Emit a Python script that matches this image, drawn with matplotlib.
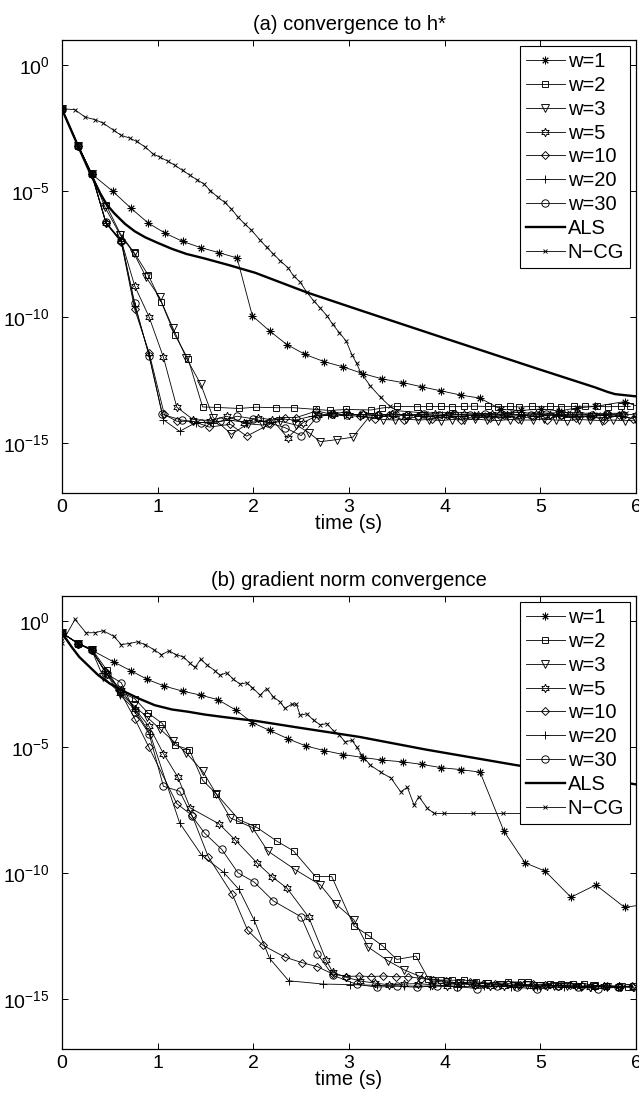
import numpy as np
import matplotlib
matplotlib.use("Agg")
import matplotlib.pyplot as plt

plt.rcParams["font.family"] = ["Liberation Sans", "DejaVu Sans"]
plt.rcParams["mathtext.fontset"] = "custom"
plt.rcParams["mathtext.rm"] = "Liberation Sans"
plt.rcParams["mathtext.it"] = "Liberation Sans"

# ---- panel (a): convergence to h*  (values are log10 of the error) ----
t_w1_a = [0, 0.17, 0.31, 0.53, 0.72, 0.90, 1.08, 1.26, 1.45, 1.64, 1.83, 1.99, 2.17, 2.35, 2.54, 2.74,
          2.94, 3.15, 3.35, 3.56, 3.76, 3.96, 4.17, 4.37, 4.59, 4.80, 5.01, 5.20, 5.38, 5.57, 5.88, 6.05]
v_w1_a = [-1.75, -3.21, -4.32, -5.01, -5.68, -6.27, -6.68, -7.00, -7.25, -7.45, -7.66, -9.96, -10.56,
          -11.10, -11.49, -11.78, -11.99, -12.26, -12.47, -12.61, -12.78, -12.94, -13.11, -13.23, -13.68,
          -13.72, -13.66, -13.74, -13.62, -13.56, -13.37, -13.6]

t_w2_a = [0, 0.17, 0.31, 0.46, 0.61, 0.76, 0.90, 1.04, 1.18, 1.32, 1.47, 1.62, 1.85, 2.03, 2.24, 2.42,
          2.66, 2.80, 2.97, 3.23, 3.35, 3.50, 3.71, 3.84, 3.96, 4.08, 4.20, 4.31, 4.45, 4.56, 4.68, 4.78,
          4.91, 5.10, 5.22, 5.35, 5.47, 5.59, 5.71, 5.84, 5.94]
v_w2_a = [-1.75, -3.21, -4.32, -5.55, -6.70, -7.48, -8.33, -9.43, -10.72, -11.69, -13.58, -13.60, -13.64,
          -13.59, -13.61, -13.61, -13.68, -13.72, -13.68, -13.70, -13.62, -13.56, -13.57, -13.56, -13.56,
          -13.57, -13.56, -13.55, -13.56, -13.57, -13.56, -13.58, -13.56, -13.56, -13.57, -13.56, -13.55,
          -13.56, -13.57, -13.56, -13.56]

t_w3_a = [0, 0.17, 0.31, 0.45, 0.61, 0.75, 0.88, 1.02, 1.16, 1.30, 1.45, 1.58, 1.77, 1.94, 2.10, 2.28,
          2.45, 2.58, 2.70, 2.87, 3.04, 3.21, 3.36, 3.48, 3.60, 3.72, 3.84, 3.96, 4.08, 4.20, 4.32, 4.44,
          4.56, 4.68, 4.80, 4.92, 5.04, 5.16, 5.28, 5.40, 5.52, 5.64, 5.76, 5.88, 6.0]
v_w3_a = [-1.75, -3.21, -4.32, -5.65, -6.75, -7.46, -8.43, -9.23, -10.45, -11.64, -12.67, -14.0, -14.67,
          -14.25, -14.3, -14.15, -14.3, -14.6, -14.96, -14.88, -14.78, -13.98, -14.08, -14.1, -14.06, -14.1,
          -14.08, -14.12, -14.08, -14.1, -14.06, -14.1, -14.12, -14.08, -14.1, -14.1, -14.06, -14.1, -14.12,
          -14.08, -14.1, -14.12, -14.1, -14.13, -14.1]

t_w5_a = [0, 0.17, 0.31, 0.46, 0.62, 0.76, 0.91, 1.06, 1.20, 1.37, 1.55, 1.72, 1.90, 2.05, 2.20, 2.36,
          2.52, 2.68, 2.84, 3.00, 3.15, 3.30, 3.45, 3.60, 3.75, 3.90, 4.05, 4.20, 4.35, 4.50, 4.65, 4.80,
          4.95, 5.10, 5.25, 5.40, 5.55, 5.70, 5.85, 6.00]
v_w5_a = [-1.75, -3.21, -4.32, -6.28, -6.97, -8.77, -10.0, -11.6, -13.59, -14.08, -14.12, -13.95, -14.2,
          -14.0, -14.1, -14.81, -14.2, -13.9, -13.85, -13.9, -13.88, -13.92, -13.86, -13.9, -13.88, -13.85,
          -13.9, -13.88, -13.92, -13.86, -13.9, -13.88, -13.85, -13.9, -13.88, -13.86, -13.9, -13.88,
          -13.85, -13.9]

t_w10_a = [0, 0.17, 0.31, 0.46, 0.62, 0.76, 0.91, 1.07, 1.20, 1.37, 1.54, 1.76, 1.93, 2.17, 2.33, 2.45,
           2.66, 2.82, 2.97, 3.12, 3.27, 3.42, 3.57, 3.72, 3.87, 4.02, 4.17, 4.32, 4.47, 4.62, 4.77, 4.92,
           5.07, 5.22, 5.37, 5.52, 5.67, 5.82, 5.97]
v_w10_a = [-1.75, -3.21, -4.32, -6.28, -7.04, -9.7, -11.42, -13.88, -14.15, -14.15, -14.38, -14.27,
           -14.74, -14.27, -14.0, -14.0, -13.74, -13.87, -13.77, -13.95, -14.05, -13.9, -14.1, -13.95,
           -14.05, -13.92, -14.08, -13.95, -14.02, -13.9, -14.05, -13.95, -14.08, -13.92, -14.02, -13.95,
           -14.08, -13.9, -14.05]

t_w20_a = [0, 0.17, 0.31, 0.46, 0.62, 0.76, 0.91, 1.06, 1.23, 1.40, 1.58, 1.75, 1.92, 2.10, 2.27, 2.44,
           2.61, 2.78, 2.95, 3.12, 3.29, 3.46, 3.63, 3.80, 3.97, 4.14, 4.31, 4.48, 4.65, 4.82, 4.99, 5.16,
           5.33, 5.50, 5.67, 5.84]
v_w20_a = [-1.75, -3.21, -4.32, -6.28, -7.0, -9.55, -11.5, -14.09, -14.55, -14.2, -14.2, -14.1, -14.2,
           -14.15, -14.05, -14.1, -13.95, -13.9, -13.92, -13.95, -13.92, -13.95, -13.9, -13.94, -13.92,
           -13.95, -13.9, -13.93, -13.95, -13.92, -13.95, -13.9, -13.93, -13.95, -13.92, -13.94]

t_w30_a = [0, 0.17, 0.31, 0.46, 0.62, 0.76, 0.91, 1.05, 1.25, 1.45, 1.65, 1.83, 2.00, 2.15, 2.33, 2.50,
           2.66, 2.82, 2.98, 3.14, 3.30, 3.46, 3.62, 3.78, 3.94, 4.10, 4.26, 4.42, 4.58, 4.74, 4.90, 5.06,
           5.22, 5.38, 5.54, 5.70, 5.86]
v_w30_a = [-1.75, -3.21, -4.32, -6.24, -6.97, -9.45, -11.55, -13.88, -14.1, -14.2, -14.15, -13.95, -14.05,
           -14.2, -14.4, -14.72, -14.0, -13.85, -13.9, -13.88, -13.9, -13.86, -13.9, -13.88, -13.92, -13.88,
           -13.9, -13.86, -13.9, -13.88, -13.9, -13.86, -13.9, -13.88, -13.92, -13.88, -13.9]

t_als_a = [0, 0.17, 0.31, 0.40, 0.47, 0.55, 0.66, 0.76, 0.87, 1.00, 1.15, 1.30, 1.49, 1.75, 2.02, 2.56,
           3.11, 4.00, 5.00, 5.57, 5.70, 5.78, 6.00]
v_als_a = [-1.75, -3.23, -4.42, -5.10, -5.55, -5.90, -6.31, -6.60, -6.84, -7.06, -7.30, -7.50, -7.68,
           -7.95, -8.25, -9.03, -9.73, -10.85, -12.10, -12.80, -12.98, -13.07, -13.16]

t_ncg_a = [0, 0.136, 0.24, 0.34, 0.43, 0.54, 0.62, 0.71, 0.78, 0.87, 0.95, 1.02, 1.11, 1.18, 1.26, 1.34,
           1.41, 1.48, 1.55, 1.63, 1.70, 1.77, 1.84, 1.91, 1.98, 2.07, 2.14, 2.21, 2.28, 2.36, 2.42, 2.49,
           2.56, 2.63, 2.70, 2.77, 2.83, 2.90, 2.97, 3.03, 3.08, 3.12, 3.22, 3.33, 3.43, 3.50, 3.80, 4.10,
           4.40, 4.70, 5.00, 5.30, 5.60, 5.90]
v_ncg_a = [-1.73, -1.77, -2.06, -2.16, -2.30, -2.59, -2.79, -2.90, -3.03, -3.25, -3.52, -3.65, -3.82,
           -3.98, -4.18, -4.38, -4.55, -4.71, -4.98, -5.25, -5.45, -5.71, -6.04, -6.31, -6.55, -6.95, -7.24,
           -7.50, -7.77, -8.04, -8.37, -8.62, -9.03, -9.36, -9.65, -9.96, -10.30, -10.63, -10.96, -11.50,
           -11.85, -12.20, -12.73, -13.20, -13.56, -13.73, -13.82, -13.80, -13.85, -13.80, -13.83, -13.80,
           -13.85, -13.82]

# ---- panel (b): gradient norm convergence (log10 of gradient norm) ----
t_w1_b = [0, 0.17, 0.31, 0.54, 0.72, 0.89, 1.07, 1.26, 1.45, 1.63, 1.82, 1.99, 2.17, 2.36, 2.55, 2.74,
          2.94, 3.15, 3.35, 3.56, 3.76, 3.96, 4.17, 4.37, 4.62, 4.84, 5.05, 5.32, 5.58, 5.88, 6.05]
v_w1_b = [-0.47, -0.89, -1.15, -1.62, -1.97, -2.31, -2.58, -2.78, -2.94, -3.12, -3.54, -4.03, -4.34,
          -4.67, -4.96, -5.14, -5.3, -5.42, -5.52, -5.59, -5.69, -5.82, -5.9, -6.0, -8.35, -9.6, -9.93,
          -10.97, -10.48, -11.37, -11.28]

t_w2_b = [0, 0.17, 0.31, 0.47, 0.61, 0.76, 0.90, 1.05, 1.18, 1.33, 1.47, 1.61, 1.85, 2.03, 2.25, 2.42,
          2.65, 2.82, 3.05, 3.20, 3.35, 3.50, 3.70, 3.83, 3.96, 4.08, 4.20, 4.33, 4.45, 4.66, 4.80, 4.87,
          5.10, 5.22, 5.34, 5.46, 5.57, 5.69, 5.82, 5.92]
v_w2_b = [-0.47, -0.89, -1.1, -1.95, -2.81, -3.08, -3.65, -4.07, -4.93, -5.1, -6.32, -6.85, -7.89, -8.18,
          -8.75, -9.13, -10.15, -10.15, -12.1, -12.48, -12.9, -13.44, -13.31, -14.21, -14.26, -14.27,
          -14.26, -14.33, -14.38, -14.32, -14.35, -14.33, -14.4, -14.4, -14.4, -14.4, -14.48, -14.51,
          -14.54, -14.54]

t_w3_b = [0, 0.17, 0.31, 0.43, 0.61, 0.75, 0.885, 1.02, 1.16, 1.30, 1.47, 1.61, 1.76, 1.99, 2.15, 2.44,
          2.70, 2.86, 3.05, 3.20, 3.41, 3.58, 3.73, 3.88, 4.02, 4.16, 4.30, 4.44, 4.58, 4.72, 4.86, 5.00,
          5.14, 5.28, 5.42, 5.56, 5.70, 5.84, 5.98]
v_w3_b = [-0.47, -0.89, -1.15, -2.21, -2.88, -3.35, -3.8, -4.27, -4.75, -5.24, -5.96, -6.85, -7.82, -8.2,
          -9.13, -9.88, -10.48, -11.23, -11.86, -12.95, -13.5, -13.86, -14.1, -14.3, -14.35, -14.38,
          -14.42, -14.4, -14.45, -14.48, -14.45, -14.5, -14.48, -14.5, -14.52, -14.5, -14.55, -14.52,
          -14.55]

t_w5_b = [0, 0.17, 0.31, 0.47, 0.62, 0.76, 0.91, 1.06, 1.21, 1.34, 1.64, 1.81, 2.04, 2.20, 2.35, 2.58,
          2.76, 2.83, 2.97, 3.12, 3.27, 3.42, 3.57, 3.72, 3.87, 4.02, 4.17, 4.32, 4.47, 4.62, 4.77, 4.92,
          5.07, 5.22, 5.37, 5.52, 5.67, 5.82, 5.97]
v_w5_b = [-0.47, -0.89, -1.15, -2.09, -2.75, -3.48, -4.18, -5.26, -6.19, -7.42, -8.05, -8.69, -9.61,
          -10.17, -10.6, -11.77, -13.46, -13.95, -14.15, -14.3, -14.38, -14.45, -14.42, -14.4, -14.45,
          -14.48, -14.42, -14.45, -14.5, -14.48, -14.45, -14.5, -14.48, -14.46, -14.5, -14.52, -14.48,
          -14.5, -14.52]

t_w10_b = [0, 0.17, 0.31, 0.45, 0.60, 0.76, 0.91, 1.20, 1.36, 1.53, 1.78, 1.94, 2.10, 2.33, 2.51, 2.67,
           2.83, 2.97, 3.10, 3.23, 3.36, 3.49, 3.62, 3.75, 3.88, 4.01, 4.14, 4.27, 4.40, 4.53, 4.66, 4.79,
           4.92, 5.05, 5.18, 5.31, 5.44, 5.57, 5.70, 5.83, 5.96]
v_w10_b = [-0.47, -0.89, -1.15, -2.0, -2.75, -3.87, -5.02, -7.25, -7.72, -9.37, -10.85, -12.28, -12.88,
           -13.35, -13.57, -13.73, -14.02, -14.12, -14.1, -14.12, -14.1, -14.13, -14.12, -14.2, -14.25,
           -14.3, -14.38, -14.35, -14.4, -14.42, -14.4, -14.45, -14.42, -14.45, -14.48, -14.45, -14.5,
           -14.48, -14.5, -14.52, -14.5]

t_w20_b = [0, 0.17, 0.31, 0.45, 0.61, 0.76, 0.92, 1.23, 1.46, 1.69, 1.85, 2.01, 2.17, 2.37, 2.73, 3.01,
           3.29, 3.57, 3.85, 4.13, 4.41, 4.69, 4.97, 5.25, 5.53, 5.81]
v_w20_b = [-0.47, -0.89, -1.15, -2.0, -2.95, -3.5, -4.47, -8.02, -9.3, -9.98, -10.66, -11.89, -13.4,
           -14.29, -14.42, -14.44, -14.47, -14.5, -14.5, -14.52, -14.5, -14.53, -14.52, -14.55, -14.53,
           -14.55]

t_w30_b = [0, 0.17, 0.31, 0.47, 0.62, 0.76, 0.91, 1.06, 1.23, 1.36, 1.49, 1.67, 1.84, 2.01, 2.21, 2.50,
           2.67, 2.83, 3.08, 3.29, 3.50, 3.71, 3.92, 4.13, 4.34, 4.55, 4.76, 4.97, 5.18, 5.39, 5.60, 5.81]
v_w30_b = [-0.47, -0.89, -1.15, -2.1, -2.45, -3.6, -4.47, -6.56, -6.76, -7.75, -8.42, -9.07, -10.0,
           -10.37, -11.12, -11.75, -13.22, -14.07, -14.43, -14.54, -14.5, -14.55, -14.48, -14.52, -14.6,
           -14.5, -14.55, -14.62, -14.5, -14.55, -14.6, -14.55]

t_als_b = [0, 0.10, 0.18, 0.27, 0.38, 0.50, 0.62, 0.80, 0.97, 1.15, 1.32, 1.49, 1.67, 1.84, 2.02, 2.49,
           3.11, 3.80, 4.73, 5.99]
v_als_b = [-0.47, -1.02, -1.42, -1.75, -2.15, -2.48, -2.74, -3.07, -3.34, -3.51, -3.60, -3.71, -3.80,
           -3.88, -3.96, -4.24, -4.60, -5.10, -5.71, -6.48]

t_ncg_b = [0, 0.136, 0.25, 0.34, 0.43, 0.54, 0.62, 0.70, 0.79, 0.87, 0.96, 1.04, 1.12, 1.19, 1.27, 1.34,
           1.39, 1.45, 1.52, 1.60, 1.65, 1.72, 1.79, 1.86, 1.93, 1.99, 2.07, 2.14, 2.21, 2.28, 2.33, 2.40,
           2.45, 2.49, 2.56, 2.63, 2.70, 2.77, 2.84, 2.90, 2.96, 3.03, 3.08, 3.13, 3.22, 3.33, 3.44, 3.54,
           3.61, 3.68, 3.73, 3.82, 3.89, 3.99, 4.30, 4.61, 4.92, 5.23, 5.54, 5.85]
v_ncg_b = [-0.85, 0.07, -0.46, -0.46, -0.38, -0.6, -0.93, -0.89, -0.82, -0.93, -1.13, -1.33, -1.18, -1.33,
           -1.42, -1.68, -1.84, -1.52, -1.75, -1.97, -2.15, -2.05, -2.3, -2.5, -2.45, -2.64, -2.94, -2.68,
           -3.01, -3.21, -3.47, -3.3, -3.3, -3.74, -3.68, -3.94, -4.12, -4.07, -4.37, -4.53, -4.8, -4.73,
           -5.0, -5.3, -5.71, -6.0, -6.24, -6.78, -6.6, -7.31, -6.97, -7.44, -7.64, -7.64, -7.64, -7.64,
           -7.64, -7.64, -7.64, -7.64]

labels = ["w=1", "w=2", "w=3", "w=5", "w=10", "w=20", "w=30", "ALS", "N\u2212CG"]
markers = [(8, 2, 0), "s", "v", (6, 1, 0), "D", "+", "o", None, "x"]
msizes = [5.5, 4.8, 5.8, 6.2, 4.4, 6, 5.3, 0, 3]

panels = [
    ("(a) convergence to h*",
     [(t_w1_a, v_w1_a), (t_w2_a, v_w2_a), (t_w3_a, v_w3_a), (t_w5_a, v_w5_a), (t_w10_a, v_w10_a),
      (t_w20_a, v_w20_a), (t_w30_a, v_w30_a), (t_als_a, v_als_a), (t_ncg_a, v_ncg_a)]),
    ("(b) gradient norm convergence",
     [(t_w1_b, v_w1_b), (t_w2_b, v_w2_b), (t_w3_b, v_w3_b), (t_w5_b, v_w5_b), (t_w10_b, v_w10_b),
      (t_w20_b, v_w20_b), (t_w30_b, v_w30_b), (t_als_b, v_als_b), (t_ncg_b, v_ncg_b)]),
]

fig = plt.figure(figsize=(6.39, 10.99), dpi=100)
rects = [[0.0970, 0.5514, 0.8983, 0.4122], [0.0970, 0.0455, 0.8983, 0.4122]]

for rect, (title, series) in zip(rects, panels):
    ax = fig.add_axes(rect)
    for (t, v), lab, mk, ms in zip(series, labels, markers, msizes):
        y = 10.0 ** np.array(v)
        if lab == "ALS":
            ax.plot(t, y, color="k", lw=1.7, label=lab, zorder=3)
        else:
            ax.plot(t, y, color="k", lw=0.6, marker=mk, ms=ms, mfc="none", mec="k",
                    mew=0.65, label=lab)
    ax.set_yscale("log")
    ax.set_xlim(0, 6)
    ax.set_ylim(1e-17, 1e1)
    ax.set_xticks([0, 1, 2, 3, 4, 5, 6])
    ax.set_yticks([1e0, 1e-5, 1e-10, 1e-15])
    ax.set_yticklabels([r"$\mathregular{10^{0}}$", r"$\mathregular{10^{-5}}$",
                        r"$\mathregular{10^{-10}}$", r"$\mathregular{10^{-15}}$"])
    ax.minorticks_off()
    ax.tick_params(direction="in", top=True, right=True, length=4, width=0.7, labelsize=14)
    ax.tick_params(axis="y", pad=9)
    ax.tick_params(axis="x", pad=4)
    for s in ax.spines.values():
        s.set_linewidth(0.9)
    ax.set_title(title, fontsize=14.5, pad=7)
    ax.set_xlabel("time (s)", fontsize=14.5, labelpad=-1)
    leg = ax.legend(loc="upper right", fontsize=14.5, numpoints=1, handlelength=1.9,
                    handletextpad=0.15, labelspacing=0.24, borderpad=0.3, borderaxespad=0.3,
                    fancybox=False, framealpha=1)
    leg.get_frame().set_edgecolor("k")
    leg.get_frame().set_linewidth(0.8)

fig.savefig("out.png", dpi=100)
